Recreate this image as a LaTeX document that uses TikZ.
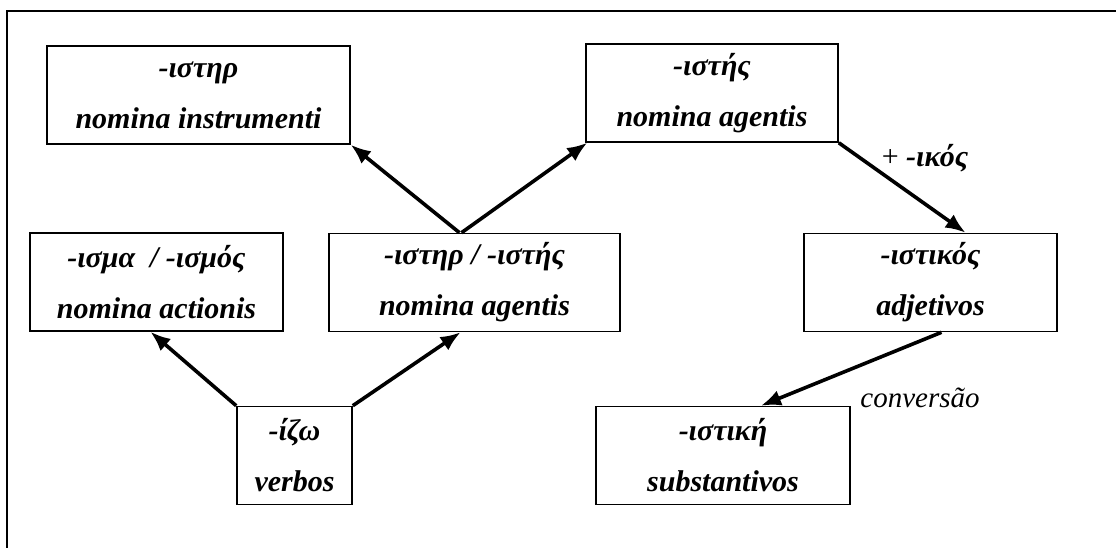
\documentclass[tikz,border=0pt]{standalone}
\usepackage{fontspec}
\setmainfont{Liberation Serif}
\usepackage{tikz}
\usetikzlibrary{arrows.meta}

\begin{document}
\begin{tikzpicture}[x=1pt, y=-1pt, every node/.style={font=\fontsize{30}{51}\selectfont\bfseries\itshape},
	box/.style={draw, line width=1.6pt, align=center, inner sep=0pt, minimum height=98pt},
	arr/.style={line width=3.6pt, -{Latex[length=20pt, width=16pt]}}]
	\useasboundingbox (0,0) rectangle (1116,548);
	\draw[line width=2.4pt] (7,548) -- (7,11) -- (1116,11);
	% boxes
	\node[box, minimum width=303pt] (instr) at (198.5,95) {-ιστηρ\\nomina instrumenti};
	\node[box, minimum width=252pt] (agtop) at (712,93) {-ιστής\\nomina agentis};
	\node[box, minimum width=253pt] (act) at (156.5,282) {-ισμα \ / -ισμός\\nomina actionis};
	\node[box, minimum width=291pt] (agmid) at (474.5,282.5) {-ιστηρ / -ιστής\\nomina agentis};
	\node[box, minimum width=253pt] (adj) at (930.5,282.5) {-ιστικός\\adjetivos};
	\node[box, minimum width=115pt] (verb) at (294.5,455.5) {-ίζω\\verbos};
	\node[box, minimum width=254pt] (subst) at (723,455.5) {-ιστική\\substantivos};
	% arrows
	\draw[arr] ([xshift=-15pt]agmid.north) -- (instr.south east);
	\draw[arr] ([xshift=-13pt]agmid.north) -- ([xshift=2pt]agtop.south west);
	\draw[arr] (agtop.south east) -- ([xshift=35pt]adj.north);
	\draw[arr] (verb.north west) -- ([xshift=-6pt]act.south);
	\draw[arr] (verb.north east) -- ([xshift=-14pt]agmid.south);
	\draw[arr] ([xshift=11pt]adj.south) -- ([xshift=38pt]subst.north);
	% labels
	\node[font=\fontsize{30}{36}\selectfont] (plus) at (925,158) {+ \textbf{\textit{-ικός}}};
	\node[font=\fontsize{29}{36}\selectfont\itshape] (conv) at (920,398) {conversão};
\end{tikzpicture}
\end{document}
